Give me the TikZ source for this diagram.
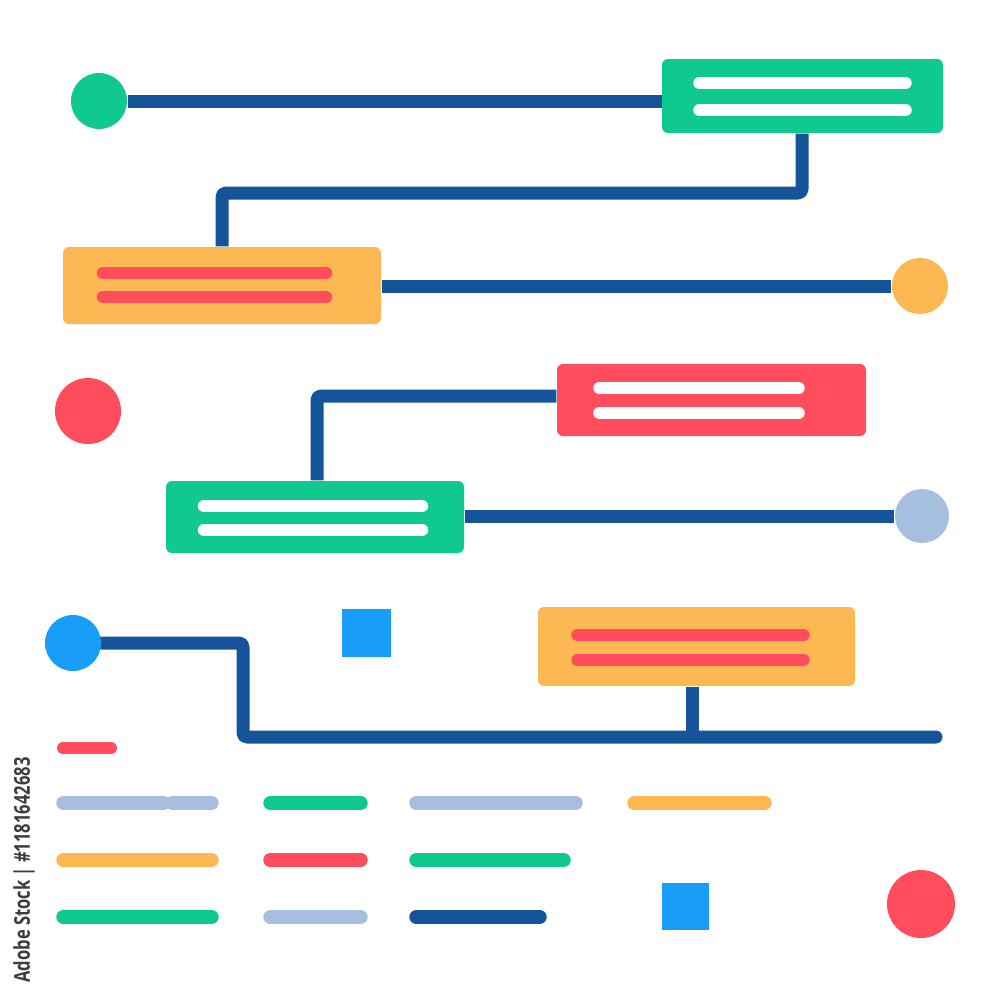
\documentclass[tikz,border=0pt]{standalone}
\usepackage{fontspec}
\newfontfamily\stockfont{Open Sans}
\usetikzlibrary{backgrounds}
\definecolor{navy}{HTML}{16549A}
\definecolor{mint}{HTML}{10C98F}
\definecolor{amber}{HTML}{FDB853}
\definecolor{coral}{HTML}{FF4D5E}
\definecolor{haze}{HTML}{A7BFDE}
\definecolor{sky}{HTML}{189DF8}
\definecolor{stockgray}{HTML}{3C3C3C}

\begin{document}
\begin{tikzpicture}[x=0.1mm, y=-0.1mm,
      card/.style={rectangle, rounded corners=0.6mm, inner sep=0pt},
      dot/.style={circle, inner sep=0pt},
      tile/.style={rectangle, inner sep=0pt, fill=sky},
      link/.style={draw=navy, line width=1.3mm, line join=round, rounded corners=0.4mm},
      textline/.style={line width=1.25mm, line cap=round},
      bar/.style={line width=1.45mm, line cap=round},
    ]

    \useasboundingbox (0,0) rectangle (1000,1000);

    % task cards
    \node[card, fill=mint, minimum width=28.1mm, minimum height=7.4mm] (taskA) at (802.5,96) {};
    \node[card, fill=amber, minimum width=31.8mm, minimum height=7.7mm] (taskB) at (222,285.5) {};
    \node[card, fill=coral, minimum width=30.9mm, minimum height=7.2mm] (taskC) at (711.5,400) {};
    \node[card, fill=mint, minimum width=29.8mm, minimum height=7.2mm] (taskD) at (315,517) {};
    \node[card, fill=amber, minimum width=31.7mm, minimum height=7.9mm] (taskE) at (696.5,646.5) {};

    % milestones
    \node[dot, fill=mint, minimum size=5.6mm] (startA) at (99,101) {};
    \node[dot, fill=amber, minimum size=5.6mm] (endB) at (920,286) {};
    \node[dot, fill=coral, minimum size=6.6mm] (spotA) at (88,411) {};
    \node[dot, fill=haze, minimum size=5.4mm] (endD) at (922,516) {};
    \node[dot, fill=sky, minimum size=5.6mm] (startE) at (73,643) {};
    \node[dot, fill=coral, minimum size=6.8mm] (spotB) at (921,904) {};
    \node[tile, minimum width=4.9mm, minimum height=4.8mm] (tileA) at (366.5,633) {};
    \node[tile, minimum size=4.7mm] (tileB) at (685.5,906.5) {};

    \coordinate (bendA) at (802,193);
    \coordinate (bendB) at (222,193);
    \coordinate (bendC) at (317,396);
    \coordinate (bendD) at (243,737);
    \coordinate (drop) at (692,737);
    \coordinate (trackEnd) at (936,737);

    \begin{scope}[on background layer]
      \draw[link] (startA) -- (startA -| taskA);
      \draw[link] (taskA.south -| bendA) -- (bendA) -- (bendB) -- (bendB |- taskB.north);
      \draw[link] (taskB.east |- endB) -- (endB);
      \draw[link] (taskD.north -| bendC) -- (bendC) -- (bendC -| taskC.west);
      \draw[link] (taskD.east |- endD) -- (endD);
      \draw[link, line cap=round] (startE) -- (startE -| bendD) -- (bendD) -- (trackEnd);
      \draw[link] (taskE.south -| drop) -- (drop);
    \end{scope}

    % lines inside the cards
    \draw[textline, white] (699.5,83) -- (905.5,83);
    \draw[textline, white] (699.5,110) -- (905.5,110);
    \draw[textline, coral] (103,273) -- (326,273);
    \draw[textline, coral] (103,297) -- (326,297);
    \draw[textline, white] (599.5,388) -- (798.5,388);
    \draw[textline, white] (599.5,413) -- (798.5,413);
    \draw[textline, white] (204,506) -- (422,506);
    \draw[textline, white] (204,530) -- (422,530);
    \draw[textline, coral] (577.5,635) -- (803.5,635);
    \draw[textline, coral] (577.5,660) -- (803.5,660);

    % legend bars
    \draw[bar, coral, line width=1.2mm] (63,748) -- (111,748);
    \draw[bar, haze] (63.5,803) -- (163.5,803);
    \draw[bar, haze] (172.5,803) -- (211.5,803);
    \draw[bar, mint] (270.5,803) -- (360.5,803);
    \draw[bar, haze] (416.5,803) -- (575.5,803);
    \draw[bar, amber] (634.5,803) -- (764.5,803);
    \draw[bar, amber] (63.5,860) -- (211.5,860);
    \draw[bar, coral] (270.5,860) -- (360.5,860);
    \draw[bar, mint] (416.5,860) -- (563.5,860);
    \draw[bar, mint] (63.5,917) -- (211.5,917);
    \draw[bar, haze] (270.5,917) -- (360.5,917);
    \draw[bar, navy] (416.5,917) -- (539.5,917);

    \node[rotate=90, text=stockgray, inner sep=0pt,
      font=\stockfont\bfseries\fontsize{6.2}{7}\selectfont] (stockid) at (24,870)
      {\scalebox{0.76}[1]{Adobe Stock | \#1181642683}};

\end{tikzpicture}
\end{document}
